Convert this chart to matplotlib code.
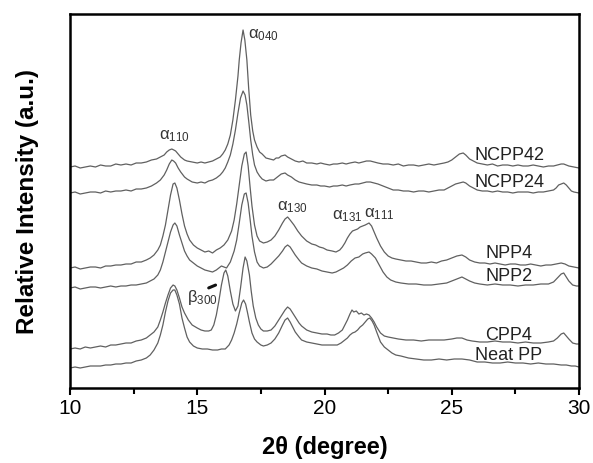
import matplotlib
matplotlib.use("Agg")
import matplotlib.pyplot as plt

plt.rcParams['font.family'] = ['Liberation Sans', 'DejaVu Sans']
plt.rcParams['mathtext.fontset'] = 'custom'
plt.rcParams['mathtext.rm'] = 'Liberation Sans'
plt.rcParams['mathtext.it'] = 'Liberation Sans'
plt.rcParams['mathtext.bf'] = 'Liberation Sans:bold'

# (2theta in degree, relative intensity in a.u., stacked)
ncpp42 = [(10.0, 221), (10.2, 222), (10.4, 220), (10.6, 221), (10.8, 222), (11.0, 221), (11.2, 223), (11.4, 222), (11.6, 222), (11.8, 224), (12.0, 223), (12.2, 224), (12.4, 223), (12.6, 225), (12.8, 225), (13.0, 226), (13.2, 228), (13.4, 229), (13.55, 231), (13.7, 233), (13.8, 236), (13.9, 238), (14.0, 239), (14.08, 238), (14.15, 237), (14.25, 234), (14.35, 231), (14.5, 228), (14.6, 227), (14.8, 226), (15.0, 225), (15.15, 226), (15.3, 225), (15.45, 226), (15.6, 227), (15.75, 229), (15.9, 231), (16.0, 234), (16.1, 238), (16.2, 244), (16.3, 253), (16.4, 268), (16.5, 288), (16.6, 312), (16.65, 328), (16.72, 345), (16.8, 358), (16.87, 348), (16.95, 328), (17.02, 300), (17.1, 273), (17.18, 257), (17.25, 248), (17.35, 241), (17.45, 236), (17.55, 234), (17.7, 230), (17.85, 229), (18.0, 228), (18.1, 230), (18.2, 230), (18.3, 232), (18.45, 233), (18.55, 231), (18.7, 229), (18.85, 227), (19.0, 226), (19.15, 227), (19.3, 225), (19.5, 225), (19.7, 224), (19.85, 225), (20.0, 224), (20.2, 223), (20.35, 224), (20.5, 224), (20.7, 225), (20.85, 224), (21.0, 225), (21.2, 226), (21.35, 225), (21.5, 226), (21.65, 227), (21.8, 227), (21.95, 226), (22.1, 225), (22.3, 224), (22.5, 224), (22.7, 223), (22.9, 224), (23.1, 222), (23.3, 223), (23.5, 223), (23.7, 222), (23.9, 223), (24.1, 224), (24.3, 223), (24.5, 224), (24.7, 225), (24.85, 226), (25.0, 228), (25.15, 231), (25.3, 234), (25.45, 235), (25.55, 233), (25.7, 229), (25.85, 227), (26.0, 225), (26.2, 224), (26.4, 223), (26.6, 224), (26.8, 222), (27.0, 223), (27.2, 223), (27.4, 222), (27.6, 223), (27.8, 222), (28.0, 222), (28.2, 223), (28.4, 222), (28.6, 221), (28.8, 222), (29.0, 222), (29.15, 223), (29.3, 224), (29.4, 224), (29.5, 223), (29.6, 222), (29.8, 221), (30.0, 220)]

ncpp24 = [(10.0, 195), (10.2, 196), (10.4, 194), (10.6, 195), (10.8, 196), (11.0, 196), (11.2, 195), (11.4, 197), (11.6, 196), (11.8, 197), (12.0, 197), (12.2, 198), (12.4, 197), (12.6, 199), (12.8, 199), (13.0, 200), (13.2, 202), (13.4, 205), (13.55, 208), (13.7, 213), (13.8, 218), (13.9, 224), (14.0, 228), (14.07, 227), (14.15, 225), (14.25, 220), (14.35, 216), (14.5, 211), (14.6, 209), (14.8, 206), (15.0, 205), (15.15, 206), (15.3, 205), (15.45, 207), (15.6, 208), (15.75, 210), (15.9, 213), (16.0, 216), (16.1, 220), (16.2, 226), (16.3, 233), (16.4, 244), (16.5, 258), (16.6, 275), (16.7, 290), (16.8, 297), (16.88, 293), (16.95, 283), (17.03, 265), (17.1, 248), (17.18, 233), (17.25, 223), (17.35, 216), (17.45, 212), (17.55, 209), (17.7, 207), (17.85, 208), (18.0, 208), (18.1, 210), (18.2, 212), (18.3, 214), (18.45, 215), (18.55, 213), (18.7, 211), (18.85, 208), (19.0, 206), (19.15, 205), (19.3, 204), (19.5, 203), (19.7, 203), (19.85, 202), (20.0, 202), (20.2, 201), (20.35, 202), (20.5, 202), (20.7, 203), (20.85, 202), (21.0, 203), (21.2, 204), (21.35, 204), (21.5, 205), (21.65, 206), (21.8, 206), (21.95, 205), (22.1, 204), (22.3, 202), (22.5, 200), (22.7, 198), (22.9, 198), (23.1, 197), (23.3, 197), (23.5, 196), (23.7, 197), (23.9, 197), (24.1, 196), (24.3, 197), (24.5, 198), (24.7, 198), (24.85, 200), (25.0, 202), (25.15, 204), (25.3, 205), (25.45, 206), (25.55, 205), (25.7, 202), (25.85, 200), (26.0, 198), (26.2, 197), (26.4, 197), (26.6, 196), (26.8, 197), (27.0, 196), (27.2, 196), (27.4, 195), (27.6, 196), (27.8, 196), (28.0, 196), (28.2, 195), (28.4, 196), (28.6, 196), (28.8, 197), (29.0, 198), (29.1, 200), (29.2, 203), (29.3, 204), (29.4, 205), (29.5, 203), (29.6, 200), (29.7, 197), (29.8, 196), (30.0, 195)]

npp4 = [(10.0, 120), (10.2, 121), (10.4, 119), (10.6, 120), (10.8, 121), (11.0, 121), (11.2, 120), (11.4, 122), (11.6, 122), (11.8, 123), (12.0, 123), (12.2, 124), (12.4, 124), (12.6, 126), (12.8, 126), (13.0, 128), (13.15, 130), (13.3, 133), (13.45, 138), (13.55, 143), (13.65, 152), (13.75, 163), (13.85, 178), (13.95, 193), (14.05, 204), (14.12, 205), (14.2, 200), (14.3, 188), (14.4, 174), (14.5, 162), (14.6, 154), (14.7, 148), (14.85, 143), (15.0, 140), (15.15, 138), (15.3, 136), (15.45, 137), (15.6, 135), (15.75, 138), (15.9, 140), (16.05, 143), (16.2, 148), (16.35, 157), (16.45, 168), (16.55, 184), (16.65, 203), (16.75, 222), (16.85, 234), (16.92, 236), (17.0, 222), (17.08, 200), (17.15, 182), (17.25, 163), (17.35, 152), (17.45, 147), (17.6, 145), (17.75, 146), (17.9, 148), (18.05, 152), (18.2, 158), (18.35, 165), (18.45, 169), (18.55, 171), (18.65, 168), (18.8, 163), (18.95, 157), (19.1, 152), (19.3, 147), (19.5, 144), (19.65, 143), (19.8, 141), (19.95, 140), (20.1, 138), (20.3, 137), (20.45, 136), (20.6, 138), (20.7, 141), (20.8, 145), (20.9, 150), (21.0, 154), (21.1, 157), (21.2, 158), (21.3, 159), (21.4, 161), (21.5, 162), (21.6, 163), (21.75, 165), (21.85, 162), (21.95, 156), (22.05, 150), (22.2, 142), (22.35, 136), (22.5, 132), (22.65, 130), (22.8, 129), (23.0, 128), (23.2, 127), (23.4, 127), (23.6, 126), (23.8, 125), (24.0, 125), (24.2, 126), (24.4, 125), (24.6, 127), (24.8, 128), (25.0, 130), (25.2, 132), (25.4, 133), (25.55, 131), (25.7, 128), (25.9, 126), (26.1, 125), (26.3, 125), (26.5, 124), (26.7, 125), (26.9, 124), (27.1, 123), (27.3, 124), (27.5, 124), (27.7, 123), (27.9, 123), (28.1, 124), (28.3, 123), (28.5, 122), (28.7, 123), (28.9, 123), (29.1, 124), (29.3, 125), (29.45, 124), (29.6, 122), (29.8, 121), (30.0, 120)]

npp2 = [(10.0, 100), (10.2, 101), (10.4, 99), (10.6, 100), (10.8, 101), (11.0, 101), (11.2, 100), (11.4, 101), (11.6, 102), (11.8, 101), (12.0, 102), (12.2, 102), (12.4, 103), (12.6, 103), (12.8, 104), (13.0, 105), (13.15, 107), (13.3, 109), (13.45, 113), (13.55, 118), (13.65, 126), (13.75, 136), (13.85, 146), (13.95, 156), (14.05, 163), (14.12, 165), (14.2, 162), (14.3, 153), (14.4, 145), (14.5, 137), (14.6, 132), (14.7, 128), (14.85, 125), (15.0, 122), (15.15, 120), (15.3, 118), (15.45, 117), (15.6, 116), (15.75, 118), (15.85, 120), (15.95, 122), (16.05, 121), (16.15, 120), (16.3, 126), (16.45, 137), (16.55, 148), (16.65, 165), (16.75, 183), (16.85, 194), (16.92, 195), (17.0, 185), (17.08, 168), (17.15, 152), (17.25, 136), (17.35, 126), (17.45, 122), (17.6, 120), (17.75, 121), (17.9, 124), (18.05, 128), (18.2, 132), (18.35, 137), (18.45, 141), (18.55, 143), (18.65, 141), (18.75, 137), (18.85, 133), (19.0, 128), (19.1, 125), (19.3, 122), (19.5, 120), (19.7, 119), (19.9, 117), (20.1, 116), (20.3, 115), (20.45, 116), (20.6, 118), (20.75, 120), (20.9, 123), (21.05, 127), (21.2, 130), (21.35, 131), (21.5, 134), (21.6, 135), (21.75, 136), (21.85, 134), (22.0, 130), (22.15, 123), (22.3, 116), (22.45, 111), (22.6, 108), (22.8, 106), (23.0, 105), (23.3, 104), (23.6, 104), (23.9, 103), (24.2, 103), (24.5, 104), (24.8, 105), (25.0, 107), (25.2, 109), (25.4, 111), (25.55, 109), (25.7, 107), (25.9, 105), (26.1, 104), (26.4, 103), (26.7, 104), (27.0, 103), (27.3, 103), (27.6, 102), (27.9, 103), (28.2, 103), (28.5, 104), (28.8, 104), (29.0, 106), (29.15, 110), (29.3, 114), (29.4, 115), (29.5, 111), (29.6, 107), (29.75, 103), (29.9, 102), (30.0, 102)]

cpp4 = [(10.0, 39), (10.2, 40), (10.4, 39), (10.6, 41), (10.8, 40), (11.0, 41), (11.2, 42), (11.4, 41), (11.6, 43), (11.8, 43), (12.0, 44), (12.2, 45), (12.4, 45), (12.6, 47), (12.8, 48), (13.0, 50), (13.15, 53), (13.3, 56), (13.45, 61), (13.55, 68), (13.65, 76), (13.75, 85), (13.85, 93), (13.95, 100), (14.05, 103), (14.12, 102), (14.2, 98), (14.3, 90), (14.4, 81), (14.5, 75), (14.65, 68), (14.8, 63), (15.0, 60), (15.15, 58), (15.3, 57), (15.45, 57), (15.55, 58), (15.65, 63), (15.75, 73), (15.85, 87), (15.95, 103), (16.05, 115), (16.12, 118), (16.2, 112), (16.3, 97), (16.4, 84), (16.5, 77), (16.6, 82), (16.7, 100), (16.8, 120), (16.88, 131), (16.95, 127), (17.05, 113), (17.12, 97), (17.2, 82), (17.3, 70), (17.4, 63), (17.5, 59), (17.6, 57), (17.75, 57), (17.9, 58), (18.05, 62), (18.2, 68), (18.35, 74), (18.45, 78), (18.55, 81), (18.65, 79), (18.75, 75), (18.85, 71), (19.0, 65), (19.1, 62), (19.3, 58), (19.5, 56), (19.7, 55), (19.9, 54), (20.1, 54), (20.25, 53), (20.4, 53), (20.55, 55), (20.7, 58), (20.8, 63), (20.9, 68), (21.0, 74), (21.08, 78), (21.15, 76), (21.25, 77), (21.35, 74), (21.45, 75), (21.55, 73), (21.65, 74), (21.75, 73), (21.85, 70), (21.95, 66), (22.05, 61), (22.2, 55), (22.35, 52), (22.5, 51), (22.7, 50), (22.9, 49), (23.2, 48), (23.5, 48), (23.8, 47), (24.1, 48), (24.4, 48), (24.7, 48), (25.0, 49), (25.2, 50), (25.4, 50), (25.6, 48), (25.8, 47), (26.1, 46), (26.4, 46), (26.7, 47), (27.0, 46), (27.3, 46), (27.6, 45), (27.9, 46), (28.2, 45), (28.5, 45), (28.8, 46), (29.0, 47), (29.15, 50), (29.3, 54), (29.4, 55), (29.5, 52), (29.6, 49), (29.75, 45), (29.9, 44), (30.0, 44)]

neat_pp = [(10.0, 20), (10.2, 21), (10.4, 20), (10.6, 21), (10.8, 22), (11.0, 22), (11.2, 22), (11.4, 23), (11.6, 23), (11.8, 24), (12.0, 24), (12.2, 25), (12.4, 25), (12.6, 27), (12.8, 28), (13.0, 30), (13.15, 33), (13.3, 38), (13.45, 45), (13.55, 53), (13.65, 63), (13.75, 76), (13.85, 87), (13.95, 95), (14.05, 98), (14.12, 98), (14.2, 93), (14.3, 84), (14.4, 70), (14.5, 60), (14.6, 51), (14.7, 46), (14.85, 42), (15.0, 40), (15.2, 39), (15.4, 39), (15.6, 38), (15.8, 38), (15.95, 39), (16.1, 39), (16.25, 43), (16.35, 48), (16.45, 55), (16.55, 64), (16.65, 75), (16.75, 85), (16.82, 88), (16.9, 84), (16.97, 76), (17.05, 66), (17.15, 55), (17.25, 49), (17.35, 46), (17.5, 43), (17.6, 42), (17.75, 43), (17.9, 45), (18.05, 49), (18.2, 55), (18.35, 63), (18.45, 68), (18.55, 70), (18.65, 66), (18.75, 61), (18.85, 56), (19.0, 51), (19.1, 48), (19.3, 46), (19.5, 45), (19.7, 44), (19.9, 43), (20.1, 43), (20.3, 43), (20.5, 43), (20.65, 45), (20.8, 48), (20.9, 50), (21.0, 53), (21.1, 55), (21.2, 56), (21.3, 58), (21.4, 61), (21.5, 63), (21.6, 66), (21.7, 69), (21.78, 70), (21.87, 67), (21.95, 63), (22.05, 56), (22.2, 46), (22.35, 41), (22.5, 38), (22.65, 35), (22.8, 33), (23.0, 32), (23.3, 30), (23.6, 29), (23.9, 28), (24.2, 28), (24.5, 29), (24.8, 28), (25.1, 29), (25.4, 29), (25.7, 28), (26.0, 26), (26.3, 26), (26.6, 25), (26.9, 25), (27.2, 26), (27.5, 25), (27.8, 25), (28.1, 24), (28.4, 25), (28.7, 24), (29.0, 24), (29.3, 23), (29.5, 23), (29.7, 22), (29.85, 22), (30.0, 21)]

sample_names = ['NCPP42', 'NCPP24', 'NPP4', 'NPP2', 'CPP4', 'Neat PP']
sample_label_y = [233, 206, 135, 112, 53, 33]

peak_labels = [r'$\mathrm{α}_{110}$', r'$\mathrm{α}_{040}$', r'$\mathrm{α}_{130}$',
               r'$\mathrm{α}_{131}$', r'$\mathrm{α}_{111}$', r'$\mathrm{β}_{300}$']
peak_label_x = [14.1, 17.6, 18.75, 20.9, 22.15, 15.2]
peak_label_y = [252, 353, 181, 172, 174, 91]

xticks = [10, 15, 20, 25, 30]

fig = plt.figure(figsize=(5.93, 4.63), dpi=100)
ax = fig.add_axes([70/593, 1 - 388/463, 509/593, 374/463])

for curve in [ncpp42, ncpp24, npp4, npp2, cpp4, neat_pp]:
    xs = [p[0] for p in curve]
    ys = [p[1] for p in curve]
    ax.plot(xs, ys, color='#606060', lw=0.9)

for name, ly in zip(sample_names, sample_label_y):
    ax.text(27.25, ly, name, fontsize=13, ha='center', va='center', color='#222222')

for lab, lx, ly in zip(peak_labels, peak_label_x, peak_label_y):
    ax.text(lx, ly, lab, fontsize=12, ha='center', va='center', color='#333333')

# short pointer next to beta label
ax.annotate('', xy=(15.82, 104), xytext=(15.35, 99),
            arrowprops=dict(arrowstyle='-', lw=2.2, color='#111111'))

ax.set_xlim(10, 30)
ax.set_ylim(0, 374)
ax.set_xticks(xticks)
ax.set_xticks([12.5, 17.5, 22.5, 27.5], minor=True)
ax.set_yticks([])
ax.tick_params(axis='x', which='major', direction='out', length=5, width=1.5, labelsize=15, pad=3)
ax.tick_params(axis='x', which='minor', direction='out', length=4, width=1.5)
for s in ax.spines.values():
    s.set_linewidth(1.8)

ax.set_xlabel('2θ (degree)', fontsize=17, fontweight='bold', labelpad=13)
ax.set_ylabel('Relative Intensity (a.u.)', fontsize=17.5, fontweight='bold', labelpad=22)

fig.savefig('out.png', dpi=100)
